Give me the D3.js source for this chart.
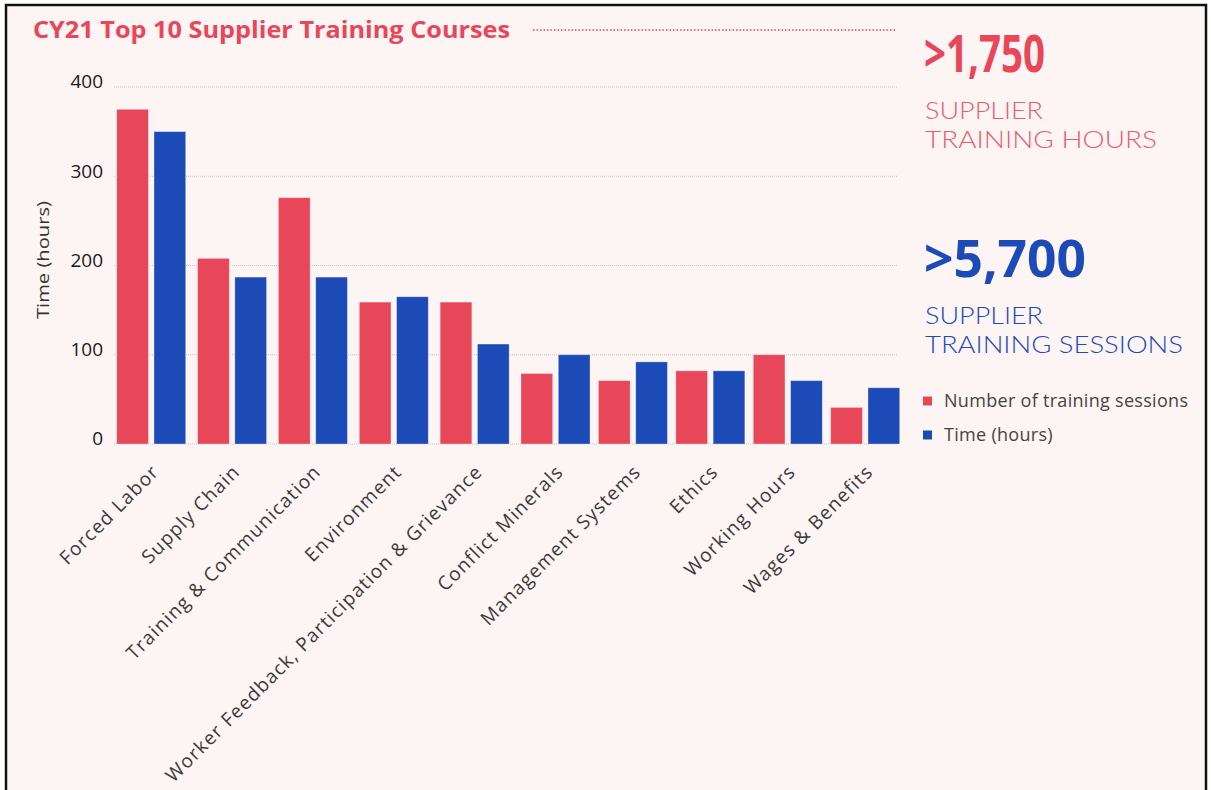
<!DOCTYPE html>
<html>
<head>
<meta charset="utf-8">
<script src="https://cdn.jsdelivr.net/npm/d3@7"></script>
<style>
  body { margin: 0; background: #fff; }
  svg { display: block; font-family: "Open Sans", Lato, sans-serif; }
</style>
</head>
<body>
<svg id="chart" width="1211" height="790"></svg>
<script>
// data
let courses = ["Forced Labor", "Supply Chain", "Training & Communication", "Environment",
    "Worker Feedback, Participation & Grievance", "Conflict Minerals", "Management Systems",
    "Ethics", "Working Hours", "Wages & Benefits"];
let sessions = [375, 208, 276, 159, 159, 79, 71, 82, 100, 41];
let hours = [350, 187, 187, 165, 112, 100, 92, 82, 71, 63];
let yTicks = [0, 100, 200, 300, 400];
let seriesNames = ["Number of training sessions", "Time (hours)"];

let red = "#e8475a";
let blue = "#1c4bb8";

let svg = d3.select("#chart");

// card background with frame
svg.append("rect")
    .attr("x", 6).attr("y", 5)
    .attr("width", 1200).attr("height", 800)
    .attr("fill", "#fdf4f4")
    .attr("stroke", "#111")
    .attr("stroke-width", 2.5);

// title
svg.append("text")
    .attr("x", 33).attr("y", 38)
    .attr("fill", red)
    .attr("font-size", 23)
    .attr("font-weight", 700)
    .attr("textLength", 477)
    .attr("lengthAdjust", "spacingAndGlyphs")
    .text("CY21 Top 10 Supplier Training Courses");

svg.append("line")
    .attr("x1", 533).attr("x2", 897)
    .attr("y1", 30).attr("y2", 30)
    .attr("stroke", red)
    .attr("stroke-width", 1.5)
    .attr("stroke-dasharray", "1.5,2");

// scales
// groups are not evenly spaced in the original: the left half is a bit wider apart
let xGroup = d3.scaleLinear()
    .domain([0, 5, 9])
    .range([116.7, 521, 830.7]);
let groupWidth = 69;

let xSub = d3.scaleBand()
    .domain([0, 1])
    .range([0, groupWidth])
    .paddingInner(0.15);

let y = d3.scaleLinear()
    .domain([0, 400])
    .range([444, 87]);

// gridlines
svg.append("g")
    .selectAll("line")
    .data(yTicks)
    .join("line")
    .attr("x1", 114).attr("x2", 898)
    .attr("y1", d => y(d)).attr("y2", d => y(d))
    .attr("stroke", "#c9c4c4")
    .attr("stroke-width", 1)
    .attr("stroke-dasharray", "1,1");

// y axis labels (via axisLeft, no domain/ticks)
let yAxis = svg.append("g")
    .attr("transform", "translate(108,0)")
    .call(d3.axisLeft(y).tickValues(yTicks).tickSize(0).tickPadding(5));
yAxis.select(".domain").remove();
yAxis.selectAll("text")
    .attr("font-family", "'Open Sans', sans-serif")
    .attr("font-size", 19)
    .attr("fill", "#1a1a1a")
    .attr("dy", "0.05em");

svg.append("text")
    .attr("transform", "translate(49,260) rotate(-90)")
    .attr("text-anchor", "middle")
    .attr("font-size", 17)
    .attr("fill", "#333")
    .attr("textLength", 118)
    .attr("lengthAdjust", "spacingAndGlyphs")
    .text("Time (hours)");

// bars
let rows = courses.map((c, i) => ({ course: c, i: i, vals: [sessions[i], hours[i]] }));

svg.append("g")
    .selectAll("g")
    .data(rows)
    .join("g")
    .attr("transform", d => `translate(${xGroup(d.i)},0)`)
    .selectAll("rect")
    .data(d => d.vals)
    .join("rect")
    .attr("x", (d, i) => xSub(i))
    .attr("y", d => y(d))
    .attr("width", xSub.bandwidth())
    .attr("height", d => y(0) - y(d))
    .attr("fill", (d, i) => i === 0 ? red : blue)
    .attr("stroke", "#ffffff")
    .attr("stroke-opacity", 0.4)
    .attr("stroke-width", 0.8);

// x labels rotated
svg.append("g")
    .selectAll("text")
    .data(courses)
    .join("text")
    .attr("transform", (d, i) => `translate(${xGroup(i) + groupWidth / 2 + 9},473) rotate(-45)`)
    .attr("text-anchor", "end")
    .attr("font-size", 19)
    .attr("letter-spacing", 1.2)
    .attr("fill", "#3a3a3a")
    .text(d => d);

// right side callouts
let callouts = [
    { big: ">1,750", bigW: 121, lines: ["SUPPLIER", "TRAINING HOURS"], widths: [118, 232], color: red, y: 72 },
    { big: ">5,700", bigW: 162, lines: ["SUPPLIER", "TRAINING SESSIONS"], widths: [118, 258], color: blue, y: 277 }
];
for (let c of callouts) {
    svg.append("text")
        .attr("x", 924).attr("y", c.y)
        .attr("fill", c.color)
        .attr("font-size", 52)
        .attr("font-weight", 700)
        .attr("textLength", c.bigW)
        .attr("lengthAdjust", "spacingAndGlyphs")
        .text(c.big);
    let t = svg.append("text")
        .attr("fill", c.color)
        .attr("fill-opacity", c.color === red ? 0.9 : 1)
        .attr("font-family", "Lato, sans-serif")
        .attr("font-size", 24)
        .attr("font-weight", 300);
    c.lines.forEach((l, i) => {
        t.append("tspan")
            .attr("x", 925).attr("y", c.y + 46.5 + i * 29)
            .attr("textLength", c.widths[i])
            .attr("lengthAdjust", "spacingAndGlyphs")
            .text(l);
    });
}

// legend
let legend = svg.append("g")
    .selectAll("g")
    .data(seriesNames)
    .join("g")
    .attr("transform", (d, i) => `translate(923,${401 + i * 34})`);
legend.append("rect")
    .attr("x", 0).attr("y", -4.5)
    .attr("width", 9).attr("height", 9)
    .attr("fill", (d, i) => i === 0 ? red : blue);
legend.append("text")
    .attr("x", 21).attr("y", 0)
    .attr("dy", "0.35em")
    .attr("font-size", 18)
    .attr("letter-spacing", 0.3)
    .attr("fill", "#444")
    .text(d => d);
</script>
</body>
</html>
